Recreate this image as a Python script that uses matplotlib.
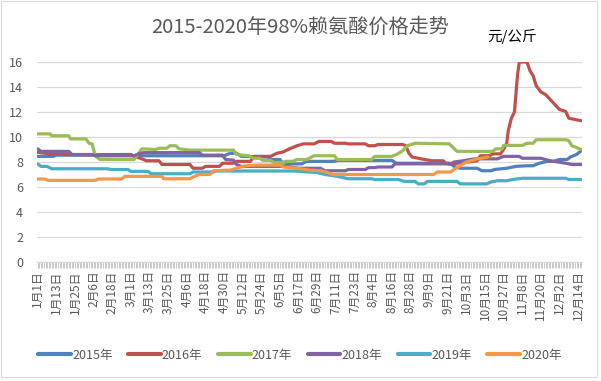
import matplotlib
matplotlib.use("Agg")
import matplotlib.pyplot as plt
import pandas as pd
from matplotlib.ticker import FixedLocator, FuncFormatter
import matplotlib.patches as patches

plt.rcParams['font.family'] = ['Noto Sans CJK SC', 'DejaVu Sans']

title = "2015-2020年98%赖氨酸价格走势"
unit = "元/公斤"
first_day = "1-1"
last_day = "12-16"
label_step_days = 12
y_ticks = [0, 2, 4, 6, 8, 10, 12, 14, 16]

s2015_dates = ["1-1", "1-11", "1-13", "3-1", "3-3", "4-30", "5-4", "5-8", "5-11", "5-28", "5-30",
               "6-5", "6-7", "6-19", "6-22", "7-9", "7-13", "8-16", "8-19", "9-23", "9-25", "9-29",
               "10-10", "10-13", "10-19", "10-21", "10-29", "11-4", "11-11", "11-15", "11-19",
               "11-24", "11-28", "12-2", "12-7", "12-9", "12-13", "12-16"]
s2015_vals = [8.45, 8.45, 8.55, 8.55, 8.5, 8.5, 8.7, 8.7, 8.45, 8.4, 8.2,
              8.2, 7.85, 7.85, 8.05, 8.05, 8.13, 8.13, 7.9, 7.9, 7.65, 7.5,
              7.5, 7.3, 7.3, 7.4, 7.5, 7.65, 7.7, 7.7, 7.9,
              8.05, 8.05, 8.2, 8.2, 8.4, 8.6, 8.9]

s2016_dates = ["1-1", "1-9", "1-21", "3-1", "3-3", "3-7", "3-11", "3-19", "3-21", "4-8", "4-10",
               "4-16", "4-18", "4-27", "4-29", "5-6", "5-8", "5-17", "5-19", "5-30", "6-3", "6-7",
               "6-11", "6-16", "6-20", "6-27", "6-30", "7-8", "7-10", "7-17", "7-19", "7-30",
               "8-1", "8-5", "8-7", "8-23", "8-25", "8-27", "8-29", "9-4", "9-11", "9-18", "9-20",
               "9-24", "9-27", "10-7", "10-10", "10-12", "10-18", "10-20", "10-25", "10-27",
               "10-29", "10-30", "11-1", "11-3", "11-5", "11-6", "11-7", "11-11", "11-13",
               "11-15", "11-17", "11-20", "11-23", "11-26", "11-29", "12-2", "12-6", "12-8",
               "12-12", "12-16"]
s2016_vals = [8.77, 8.65, 8.58, 8.6, 8.45, 8.3, 8.1, 8.1, 7.8, 7.8, 7.5,
              7.5, 7.65, 7.65, 7.9, 7.9, 8.05, 8.05, 8.45, 8.45, 8.7, 8.8,
              9.05, 9.3, 9.45, 9.45, 9.65, 9.65, 9.5, 9.5, 9.45, 9.45,
              9.3, 9.3, 9.4, 9.4, 9.3, 8.7, 8.4, 8.25, 8.1, 8.1, 7.9,
              7.8, 7.9, 8.05, 8.1, 8.5, 8.5, 8.65, 8.65, 9.0,
              9.5, 10.5, 11.5, 12.0, 15.0, 15.9, 16.0, 16.0, 15.3,
              14.9, 14.1, 13.6, 13.4, 13.0, 12.6, 12.2, 12.05, 11.5,
              11.4, 11.3]

s2017_dates = ["1-1", "1-9", "1-10", "1-21", "1-22", "2-1", "2-3", "2-5", "2-7", "2-10", "3-3",
               "3-6", "3-8", "3-17", "3-19", "3-24", "3-26", "3-30", "4-1", "4-8", "5-6", "5-8",
               "5-16", "5-19", "5-23", "5-25", "5-30", "6-1", "6-6", "6-7", "6-8", "6-13",
               "6-16", "6-22", "6-24", "6-27", "7-10", "7-12", "8-3", "8-5", "8-16", "8-19",
               "8-23", "8-26", "8-31", "9-22", "9-25", "9-27", "10-20", "10-22", "10-26",
               "10-27", "11-8", "11-11", "11-15", "11-17", "12-6", "12-8", "12-10", "12-14",
               "12-16"]
s2017_vals = [10.25, 10.25, 10.1, 10.1, 9.85, 9.85, 9.5, 9.45, 8.5, 8.2, 8.2,
              8.7, 9.05, 9.0, 9.1, 9.1, 9.3, 9.3, 9.05, 8.95, 8.95, 8.6,
              8.5, 8.3, 8.3, 8.13, 8.13, 7.97, 7.97, 7.8, 8.05, 8.05,
              8.2, 8.2, 8.3, 8.5, 8.5, 8.2, 8.2, 8.45, 8.45, 8.6,
              8.9, 9.3, 9.5, 9.45, 9.1, 8.85, 8.85, 9.05, 9.05,
              9.33, 9.33, 9.5, 9.5, 9.78, 9.78, 9.7, 9.3, 9.1,
              9.0]

s2018_dates = ["1-1", "1-3", "1-21", "1-23", "2-5", "2-7", "3-3", "3-6", "3-9", "4-14", "4-16",
               "4-29", "5-1", "5-6", "5-8", "5-11", "6-9", "6-17", "7-1", "7-4", "7-17", "7-19",
               "7-30", "8-1", "8-5", "8-7", "8-16", "8-18", "9-23", "9-25", "10-1", "10-8",
               "10-23", "10-27", "11-6", "11-8", "11-20", "11-26", "12-6", "12-10", "12-16"]
s2018_vals = [9.05, 8.85, 8.85, 8.6, 8.6, 8.5, 8.5, 8.65, 8.75, 8.75, 8.55,
              8.55, 8.2, 8.15, 7.8, 7.65, 7.65, 7.5, 7.5, 7.3, 7.3, 7.4,
              7.4, 7.55, 7.55, 7.6, 7.6, 7.85, 7.85, 8.0, 8.1, 8.25,
              8.25, 8.45, 8.45, 8.3, 8.3, 8.1, 7.9, 7.8, 7.8]

s2019_dates = ["1-1", "1-3", "1-7", "1-10", "2-15", "2-17", "2-28", "3-1", "3-12", "3-14", "4-8",
               "4-10", "4-23", "4-25", "6-14", "6-24", "6-29", "7-4", "7-12", "7-19", "8-3",
               "8-5", "8-20", "8-24", "8-31", "9-2", "9-6", "9-8", "9-27", "9-29", "10-16",
               "10-19", "10-23", "10-29", "11-2", "11-8", "12-6", "12-8", "12-16"]
s2019_vals = [7.85, 7.65, 7.65, 7.46, 7.46, 7.4, 7.4, 7.25, 7.25, 7.06, 7.06,
              7.2, 7.2, 7.28, 7.28, 7.2, 7.15, 7.0, 6.85, 6.66, 6.66,
              6.6, 6.6, 6.45, 6.45, 6.25, 6.25, 6.45, 6.45, 6.25, 6.25,
              6.4, 6.5, 6.5, 6.6, 6.7, 6.7, 6.6, 6.6]

s2020_dates = ["1-1", "1-5", "1-8", "2-7", "2-9", "2-24", "2-26", "3-21", "3-22", "4-8", "4-10",
               "4-14", "4-21", "4-23", "5-4", "5-8", "5-14", "5-21", "6-5", "6-7", "6-16",
               "6-24", "7-1", "7-5", "7-9", "9-12", "9-14", "9-23", "9-25", "9-29", "10-3",
               "10-10", "10-17"]
s2020_vals = [6.64, 6.64, 6.53, 6.53, 6.64, 6.64, 6.85, 6.85, 6.66, 6.66, 6.8,
              7.0, 7.0, 7.3, 7.35, 7.5, 7.7, 7.75, 7.75, 7.6, 7.5,
              7.35, 7.3, 7.2, 7.0, 7.0, 7.2, 7.2, 7.4, 7.7, 8.0,
              8.25, 8.4]

series_names = ["2015年", "2016年", "2017年", "2018年", "2019年", "2020年"]
series_dates = [s2015_dates, s2016_dates, s2017_dates, s2018_dates, s2019_dates, s2020_dates]
series_vals = [s2015_vals, s2016_vals, s2017_vals, s2018_vals, s2019_vals, s2020_vals]
colors = ["#4F81BD", "#C0504D", "#9BBB59", "#8064A2", "#4BACC6", "#F79646"]

BASE_YEAR = "2016-"  # leap-year calendar used for the month/day axis


def to_dt(lst):
    return pd.to_datetime([BASE_YEAR + s for s in lst])


fig = plt.figure(figsize=(6.01, 3.81), dpi=100)
fig.patch.set_facecolor("white")
ax = fig.add_axes([37 / 601, 1 - 262 / 381, 545 / 601, 200 / 381])

for name, d, v, c in zip(series_names, series_dates, series_vals, colors):
    ax.plot(to_dt(d), v, color=c, lw=2.3, label=name, solid_capstyle="round",
            solid_joinstyle="round")

start = pd.Timestamp(BASE_YEAR + first_day)
end = pd.Timestamp(BASE_YEAR + last_day)
ax.set_xlim(start - pd.Timedelta(hours=12), end + pd.Timedelta(hours=12))
ax.set_ylim(0, 16)

label_days = pd.date_range(start, end, freq=f"{label_step_days}D")
all_days = pd.date_range(start, end, freq="D")
ax.xaxis.set_major_locator(FixedLocator(matplotlib.dates.date2num(label_days)))
ax.xaxis.set_minor_locator(FixedLocator(matplotlib.dates.date2num(all_days)))
ax.xaxis.set_major_formatter(FuncFormatter(
    lambda x, p: (lambda t: f"{t.month}月{t.day}日")(matplotlib.dates.num2date(x))))
ax.tick_params(axis="x", which="both", length=4, width=0.6, color="#BFBFBF",
               labelsize=8.5, labelcolor="#595959", pad=2, labelrotation=90)

ax.set_yticks(y_ticks)
ax.tick_params(axis="y", length=0, labelsize=9, labelcolor="#595959", pad=10)
ax.grid(axis="y", color="#D9D9D9", lw=0.9)
ax.set_axisbelow(True)
for s in ["left", "right", "top"]:
    ax.spines[s].set_visible(False)
ax.spines["bottom"].set_color("#D9D9D9")
ax.spines["bottom"].set_linewidth(0.9)

fig.text(300 / 601, 1 - 27 / 381, title, ha="center", va="center", fontsize=14.5,
         color="#595959")
fig.text(512 / 601, 1 - 36 / 381, unit, ha="center", va="center", fontsize=10.5,
         color="#000000")

leg = fig.legend(loc="center", bbox_to_anchor=(300 / 601, 1 - 355 / 381), ncol=6,
                 frameon=False, fontsize=9, handlelength=2.6, columnspacing=1.25,
                 handletextpad=0.1)
for t in leg.get_texts():
    t.set_color("#595959")
for h in leg.get_lines():
    h.set_linewidth(3)

fig.add_artist(patches.Rectangle((0.5 / 601, 1 - 377 / 381), 596 / 601, 376 / 381,
                                 transform=fig.transFigure, fill=False,
                                 edgecolor="#D9D9D9", lw=0.8))

fig.savefig("out.png", dpi=100)
